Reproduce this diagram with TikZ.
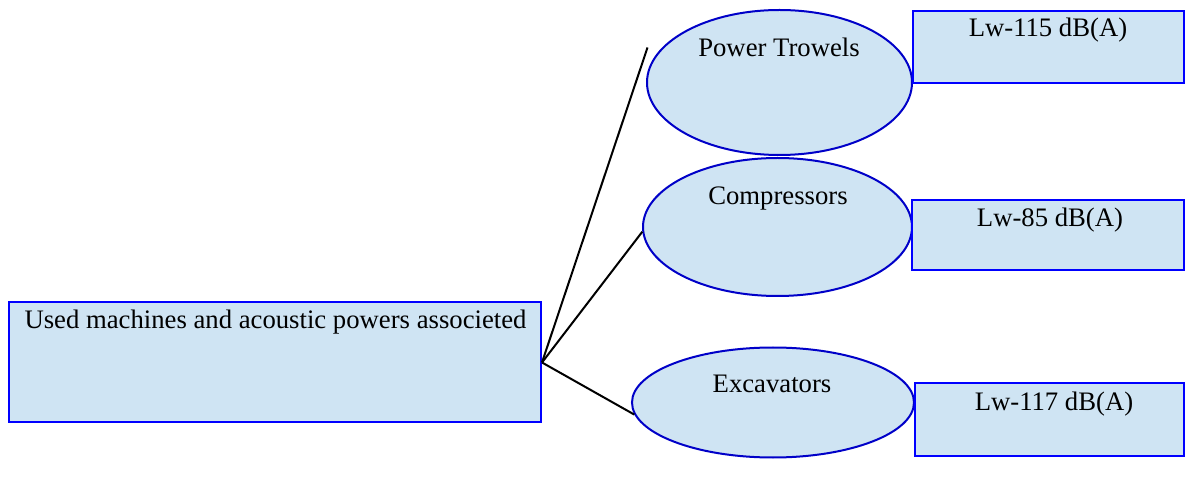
\documentclass[tikz,border=0pt]{standalone}
\usepackage{fontspec}
\setmainfont{Liberation Serif}
\usetikzlibrary{shapes.geometric}
\definecolor{boxfill}{RGB}{207,228,243}
\definecolor{rectline}{RGB}{0,0,255}
\definecolor{ellline}{RGB}{0,0,200}
\tikzset{
  boxrect/.style={draw=rectline, fill=boxfill, line width=2pt, rectangle, inner sep=0pt},
  boxell/.style={draw=ellline, fill=boxfill, line width=2pt, ellipse, inner sep=0pt},
  lbl/.style={anchor=base, inner sep=0pt, font=\fontsize{26.7}{32}\selectfont},
  conn/.style={draw=black, line width=2pt}
}
\begin{document}
\begin{tikzpicture}[x=1pt,y=-1pt]
\useasboundingbox (0,0) rectangle (1187,486);
% main box
\node[boxrect, minimum width=532pt, minimum height=120pt] (main) at (275,362.5) {};
\node[lbl] (maintxt) at (275.5,329) {Used machines and acoustic powers associeted};
% ellipses
\node[boxell, minimum width=265pt, minimum height=145pt] (e1) at (779.5,82.5) {};
\node[lbl] (e1txt) at (779,57) {Power Trowels};
\node[boxell, minimum width=269pt, minimum height=138pt] (e2) at (777.5,227) {};
\node[lbl] (e2txt) at (778,205) {Compressors};
\node[boxell, minimum width=282pt, minimum height=110pt] (e3) at (773,402.5) {};
\node[lbl] (e3txt) at (772,393) {Excavators};
% value boxes
\node[boxrect, minimum width=271pt, minimum height=72pt] (r1) at (1048.5,47) {};
\node[lbl] (r1txt) at (1048,37) {Lw-115 dB(A)};
\node[boxrect, minimum width=272pt, minimum height=70pt] (r2) at (1048,235) {};
\node[lbl] (r2txt) at (1050,227) {Lw-85 dB(A)};
\node[boxrect, minimum width=269pt, minimum height=73pt] (r3) at (1049.5,419.5) {};
\node[lbl] (r3txt) at (1054,410) {Lw-117 dB(A)};
% connectors
\coordinate (c1) at (647.5,47.5);
\draw[conn] (main.east) -- (c1);
\draw[conn] (main.east) -- (e2.182);
\draw[conn] (main.east) -- (e3.185);
\end{tikzpicture}
\end{document}
